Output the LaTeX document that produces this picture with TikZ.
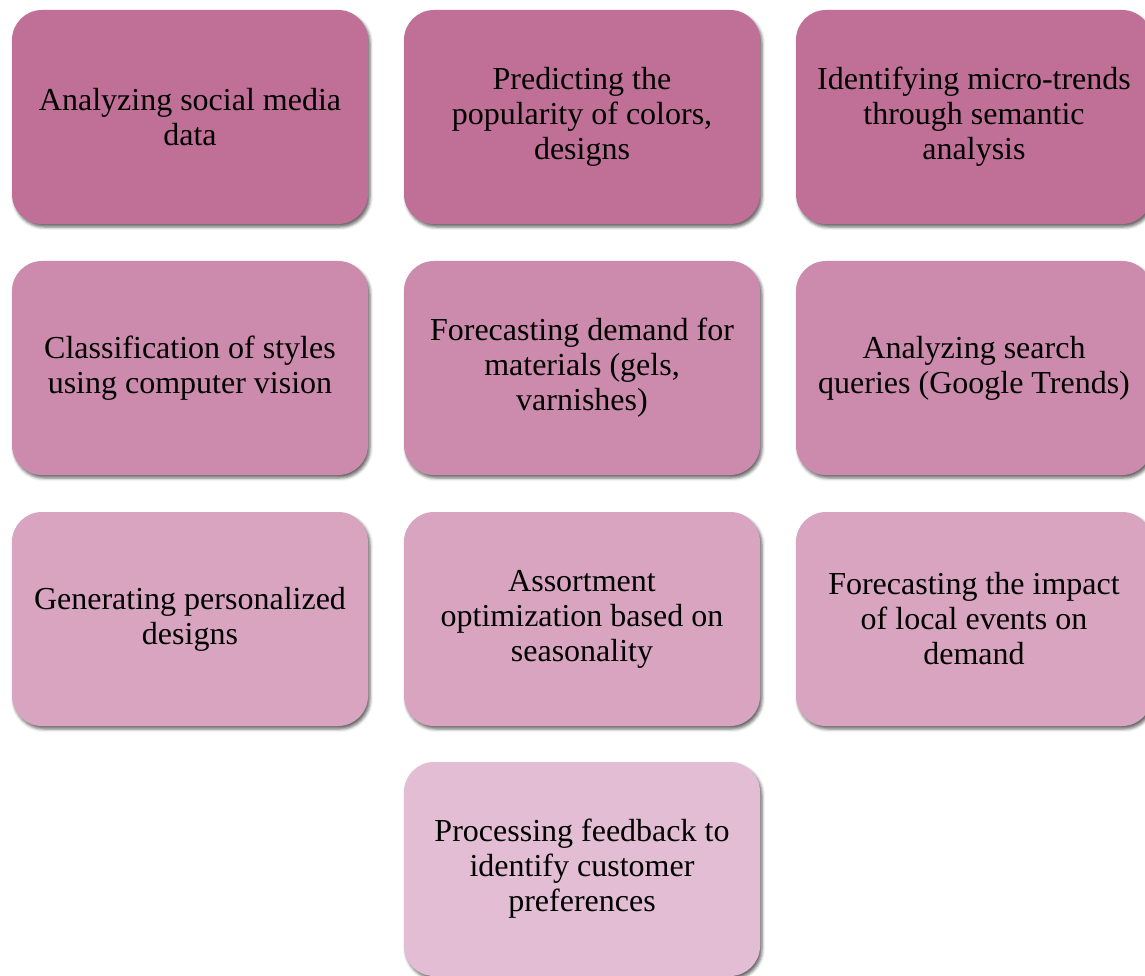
\documentclass[tikz,border=0pt]{standalone}
\usepackage{fontspec}
\setmainfont{Liberation Serif}
\usetikzlibrary{shadows.blur}
\definecolor{rowA}{RGB}{192,112,151}
\definecolor{rowB}{RGB}{204,138,173}
\definecolor{rowC}{RGB}{216,164,192}
\definecolor{rowD}{RGB}{226,189,211}
\tikzset{
  card/.style={rectangle, rounded corners=30pt, minimum width=356pt, minimum height=214pt,
    inner sep=0pt, align=center, font=\fontsize{32}{35}\selectfont, text=black,
    blur shadow={shadow xshift=2pt, shadow yshift=-3pt, shadow blur radius=3pt, shadow opacity=60}},
}
\begin{document}
\begin{tikzpicture}[x=1pt, y=-1pt]
\useasboundingbox (0,0) rectangle (1145,976);
% column centres 190, 582, 974; row centres 117, 368, 619, 869
\node[card, fill=rowA] (a1) at (190,117) {Analyzing social media\\data};
\node[card, fill=rowA] (a2) at (582,117) {Predicting the\\popularity of colors,\\designs};
\node[card, fill=rowA] (a3) at (974,117) {Identifying micro-trends\\through semantic\\analysis};
\node[card, fill=rowB] (b1) at (190,368) {Classification of styles\\using computer vision};
\node[card, fill=rowB] (b2) at (582,368) {Forecasting demand for\\materials (gels,\\varnishes)};
\node[card, fill=rowB] (b3) at (974,368) {Analyzing search\\queries (Google Trends)};
\node[card, fill=rowC] (c1) at (190,619) {Generating personalized\\designs};
\node[card, fill=rowC] (c2) at (582,619) {Assortment\\optimization based on\\seasonality};
\node[card, fill=rowC] (c3) at (974,619) {Forecasting the impact\\of local events on\\demand};
\node[card, fill=rowD] (d2) at (582,869) {Processing feedback to\\identify customer\\preferences};
\end{tikzpicture}
\end{document}
